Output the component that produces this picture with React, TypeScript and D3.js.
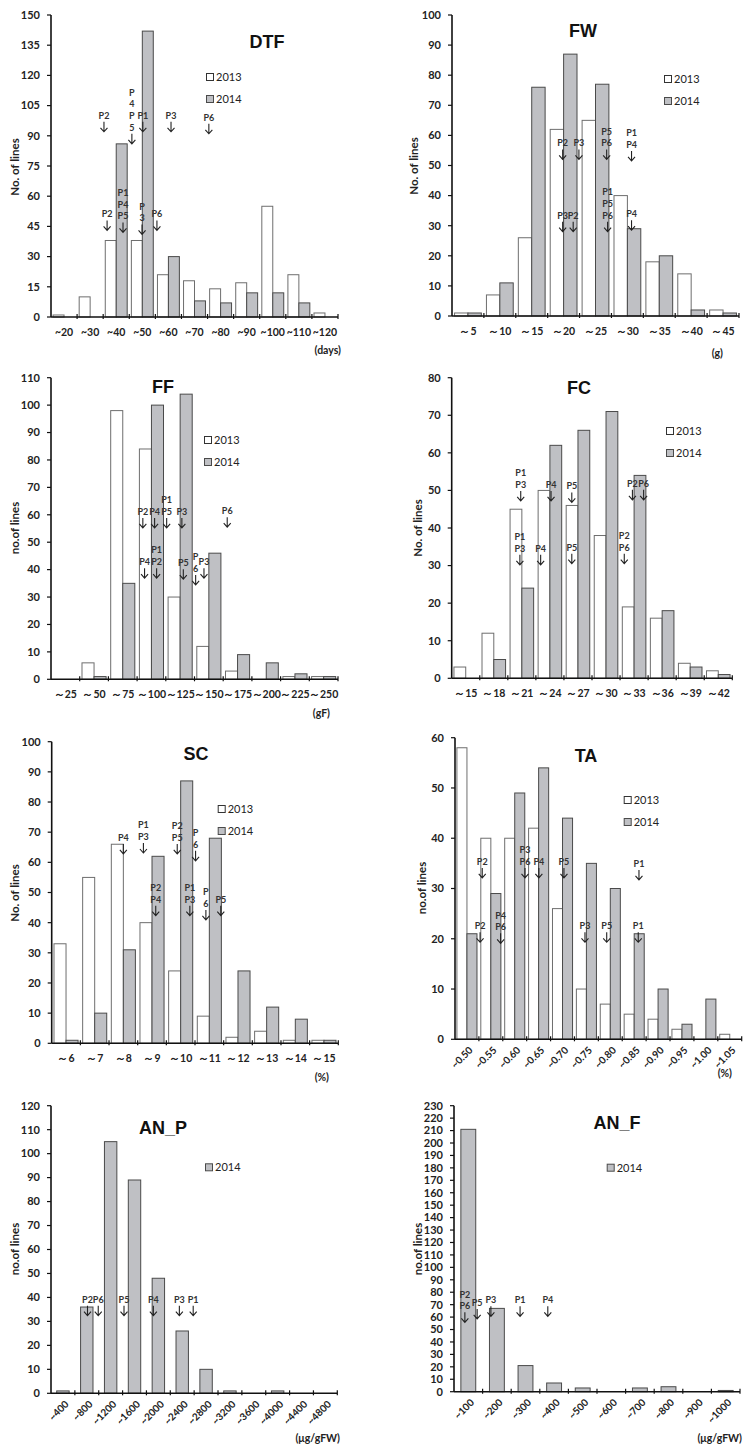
import React from "react";
import * as d3 from "d3";

// ---------- data ----------
const dtfCats = ["~20", "~30", "~40", "~50", "~60", "~70", "~80", "~90", "~100", "~110", "~120"];
const dtf2013 = [1, 10, 38, 38, 21, 18, 14, 17, 55, 21, 2];
const dtf2014 = [0, 0, 86, 142, 30, 8, 7, 12, 12, 7, 0];

const fwCats = ["～5", "～10", "～15", "～20", "～25", "～30", "～35", "～40", "～45"];
const fw2013 = [1, 7, 26, 62, 65, 40, 18, 14, 2];
const fw2014 = [1, 11, 76, 87, 77, 29, 20, 2, 1];

const ffCats = ["～25", "～50", "～75", "～100", "～125", "～150", "～175", "～200", "～225", "～250"];
const ff2013 = [0, 6, 98, 84, 30, 12, 3, 0, 1, 1];
const ff2014 = [0, 1, 35, 100, 104, 46, 9, 6, 2, 1];

const fcCats = ["～15", "～18", "～21", "～24", "～27", "～30", "～33", "～36", "～39", "～42"];
const fc2013 = [3, 12, 45, 50, 46, 38, 19, 16, 4, 2];
const fc2014 = [0, 5, 24, 62, 66, 71, 54, 18, 3, 1];

const scCats = ["～6", "～7", "～8", "～9", "～10", "～11", "～12", "～13", "～14", "～15"];
const sc2013 = [33, 55, 66, 40, 24, 9, 2, 4, 1, 1];
const sc2014 = [1, 10, 31, 62, 87, 68, 24, 12, 8, 1];

const taCats = ["~0.50", "~0.55", "~0.60", "~0.65", "~0.70", "~0.75", "~0.80", "~0.85", "~0.90", "~0.95", "~1.00", "~1.05"];
const ta2013 = [58, 40, 40, 42, 26, 10, 7, 5, 4, 2, 0, 1];
const ta2014 = [21, 29, 49, 54, 44, 35, 30, 21, 10, 3, 8, 0];

const anpCats = ["~400", "~800", "~1200", "~1600", "~2000", "~2400", "~2800", "~3200", "~3600", "~4000", "~4400", "~4800"];
const anp2014 = [1, 36, 105, 89, 48, 26, 10, 1, 0, 1, 0, 0];

const anfCats = ["~100", "~200", "~300", "~400", "~500", "~600", "~700", "~800", "~900", "~1000"];
const anf2014 = [211, 67, 21, 7, 3, 0, 3, 4, 0, 1];

// parent markers: [category position, value at arrow tip, label lines]
type Mark = [number, number, string[]];
const dtfMarks: Mark[] = [
  [2.03, 92, ["P2"]], [3.1, 86, ["P", "4", "P", "5"]], [3.52, 92, ["P1"]], [4.6, 92, ["P3"]], [6.05, 91, ["P6"]],
  [2.15, 43, ["P2"]], [2.76, 42, ["P1", "P4", "P5"]], [3.49, 41, ["P", "3"]], [4.06, 43, ["P6"]],
];
const fwMarks: Mark[] = [
  [3.47, 52, ["P2"]], [3.98, 52, ["P3"]], [4.85, 52, ["P5", "P6"]], [5.63, 51.5, ["P1", "P4"]],
  [3.47, 28, ["P3"]], [3.8, 28, ["P2"]], [4.88, 28, ["P1", "P5", "P6"]], [5.63, 28.5, ["P4"]],
];
const ffMarks: Mark[] = [
  [3.2, 55.2, ["P2"]], [3.61, 55.2, ["P4"]], [4.03, 55.2, ["P1", "P5"]], [4.56, 55.2, ["P3"]], [6.14, 55.5, ["P6"]],
  [3.26, 36.9, ["P4"]], [3.68, 36.9, ["P1", "P2"]], [4.61, 36.5, ["P5"]], [5.04, 34.4, ["P", "6"]], [5.33, 36.9, ["P3"]],
];
const fcMarks: Mark[] = [
  [2.46, 47.2, ["P1", "P3"]], [3.54, 47.2, ["P4"]], [4.28, 46.8, ["P5"]], [6.44, 47.5, ["P2"]], [6.84, 47.5, ["P6"]],
  [2.43, 30.2, ["P1", "P3"]], [3.17, 30.2, ["P4"]], [4.28, 30.5, ["P5"]], [6.15, 30.5, ["P2", "P6"]],
];
const scMarks: Mark[] = [
  [2.5, 62.8, ["P4"]], [3.2, 63.1, ["P1", "P3"]], [4.38, 62.8, ["P2", "P5"]], [5.02, 60.5, ["P", "6"]],
  [3.63, 42.3, ["P2", "P4"]], [4.82, 42.3, ["P1", "P3"]], [5.38, 40.9, ["P", "6"]], [5.9, 42.3, ["P5"]],
];
const taMarks: Mark[] = [
  [1.14, 32.1, ["P2"]], [2.93, 32.1, ["P3", "P6"]], [3.51, 32.1, ["P4"]], [4.56, 32.1, ["P5"]], [7.7, 31.7, ["P1"]],
  [1.05, 19.3, ["P2"]], [1.91, 19.1, ["P4", "P6"]], [5.44, 19.3, ["P3"]], [6.35, 19.3, ["P5"]], [7.67, 19.3, ["P1"]],
];
const anpMarks: Mark[] = [
  [1.53, 32.4, ["P2"]], [1.98, 32.4, ["P6"]], [3.06, 32.4, ["P5"]], [4.29, 32.4, ["P4"]], [5.38, 32.4, ["P3"]], [5.96, 32.4, ["P1"]],
];
const anfMarks: Mark[] = [
  [0.38, 55.8, ["P2", "P6"]], [0.81, 58.5, ["P5"]], [1.29, 60.6, ["P3"]], [2.31, 60.6, ["P1"]], [3.28, 60.6, ["P4"]],
];

// ---------- styles ----------
const FONT = "Lato, 'Open Sans', sans-serif";
const TITLE_FONT = "'Liberation Sans', Arial, sans-serif";
const FILL_2014 = "#bfc0c4";
const STROKE_2014 = "#4a4a4a";
const STROKE_2013 = "#6e6e6e";

type Series = { name: string; values: number[] };

type Layout = {
  left: number; right: number; top: number; bottom: number;
  yMax: number; yStep: number;
  title: string; titleX: number; titleY: number;
  legendX: number; legendY: number;
  yLabel: string; yLabelX: number; yLabelY: number;
  unit?: string; unitX?: number; unitY?: number;
  rotate?: boolean;
};

function Panel({ cats, series, marks, L }: { cats: string[]; series: Series[]; marks: Mark[]; L: Layout }) {
  const x = d3.scaleBand<string>().domain(cats).range([L.left, L.right]);
  const xi = d3.scaleLinear().domain([0, cats.length]).range([L.left, L.right]);
  const y = d3.scaleLinear().domain([0, L.yMax]).range([L.bottom, L.top]);
  const bw = x.bandwidth();
  const single = series.length === 1;
  const barW = single ? bw * 0.52 : bw * 0.42;
  const groupStart = (bw - barW * series.length) / 2;
  const yTicks = d3.range(0, L.yMax + 0.001, L.yStep);

  return (
    <g>
      {/* bars */}
      {series.map((s, si) =>
        s.values.map((v, i) => {
          if (v <= 0) return null;
          const is2014 = s.name === "2014";
          const bx = (x(cats[i]) as number) + groupStart + si * barW;
          return (
            <rect key={s.name + i} x={bx} y={y(v)} width={barW} height={y(0) - y(v)}
              fill={is2014 ? FILL_2014 : "#fff"} stroke={is2014 ? STROKE_2014 : STROKE_2013} strokeWidth={1} />
          );
        })
      )}

      {/* y axis */}
      <line x1={L.left} x2={L.left} y1={L.top} y2={L.bottom} stroke="#111" strokeWidth={1.6} />
      {yTicks.map((t) => (
        <g key={t}>
          <line x1={L.left - 4} x2={L.left} y1={y(t)} y2={y(t)} stroke="#111" strokeWidth={1.2} />
          <text x={L.left - 11} y={y(t)} dy="0.35em" textAnchor="end" fontFamily={FONT} fontWeight={700}
            fontSize={11} fill="#222">{t}</text>
        </g>
      ))}

      {/* x axis */}
      <line x1={L.left} x2={L.right} y1={L.bottom} y2={L.bottom} stroke="#111" strokeWidth={1.6} />
      {cats.map((c, i) => (
        <line key={"tk" + c} x1={xi(i + 1)} x2={xi(i + 1)} y1={L.bottom - 3} y2={L.bottom + 2} stroke="#111" strokeWidth={1.2} />
      ))}
      {cats.map((c) => {
        const cx = (x(c) as number) + bw / 2;
        return L.rotate ? (
          <text key={"xl" + c} transform={`translate(${cx + 4},${L.bottom + 9}) rotate(-45)`} textAnchor="end" dy="0.35em"
            fontFamily={FONT} fontWeight={700} fontSize={10} fill="#222">{c}</text>
        ) : (
          <text key={"xl" + c} x={cx} y={L.bottom + 19} textAnchor="middle" fontFamily={FONT} fontWeight={700}
            fontSize={10.5} fill="#222">{c}</text>
        );
      })}

      {/* axis titles */}
      <text transform={`translate(${L.yLabelX},${L.yLabelY}) rotate(-90)`} textAnchor="middle" dy="0.35em"
        fontFamily={FONT} fontWeight={700} fontSize={11.5} fill="#222">{L.yLabel}</text>
      {L.unit && (
        <text x={L.unitX} y={L.unitY} textAnchor="end" fontFamily={FONT} fontWeight={700} fontSize={10.5} fill="#222">{L.unit}</text>
      )}

      {/* chart title */}
      <text x={L.titleX} y={L.titleY} dy="0.36em" textAnchor="middle" fontFamily={TITLE_FONT} fontWeight={700}
        fontSize={18} fill="#111">{L.title}</text>

      {/* legend */}
      {series.map((s, si) => {
        const ly = L.legendY + si * 22;
        const is2014 = s.name === "2014";
        return (
          <g key={"lg" + s.name}>
            <rect x={L.legendX - 3.5} y={ly - 3.5} width={7} height={7} fill={is2014 ? FILL_2014 : "#fff"}
              stroke={is2014 ? STROKE_2014 : "#333"} strokeWidth={1} />
            <text x={L.legendX + 6} y={ly} dy="0.36em" fontFamily={FONT} fontSize={11} fill="#222">{s.name}</text>
          </g>
        );
      })}

      {/* parent markers */}
      {marks.map(([mx, my, lines], i) => {
        const cx = xi(mx);
        const tip = y(my);
        return (
          <g key={"mk" + i}>
            {lines.map((t, j) => (
              <text key={j} x={cx} y={tip - 13 - (lines.length - 1 - j) * 11.7} textAnchor="middle" fontFamily={FONT}
                fontWeight={700} fontSize={9} fill="#333">{t}</text>
            ))}
            <path d={`M${cx},${tip - 10}V${tip}M${cx - 3.5},${tip - 4}L${cx},${tip}L${cx + 3.5},${tip - 4}`}
              stroke="#222" strokeWidth={1.1} fill="none" />
          </g>
        );
      })}
    </g>
  );
}

const layoutDTF: Layout = { left: 51, right: 338, top: 15, bottom: 317, yMax: 150, yStep: 15, title: "DTF", titleX: 267, titleY: 42,
  legendX: 210, legendY: 77, yLabel: "No. of lines", yLabelX: 15, yLabelY: 167, unit: "(days)", unitX: 341, unitY: 354 };
const layoutFW: Layout = { left: 452, right: 739, top: 15, bottom: 316, yMax: 100, yStep: 10, title: "FW", titleX: 583, titleY: 31,
  legendX: 668, legendY: 79, yLabel: "No. of lines", yLabelX: 414, yLabelY: 166, unit: "(g)", unitX: 723, unitY: 357 };
const layoutFF: Layout = { left: 51, right: 338, top: 377.7, bottom: 679.3, yMax: 110, yStep: 10, title: "FF", titleX: 163, titleY: 387,
  legendX: 208, legendY: 440, yLabel: "no.of lines", yLabelX: 15, yLabelY: 528, unit: "(gF)", unitX: 330, unitY: 717 };
const layoutFC: Layout = { left: 451.7, right: 732.3, top: 377.7, bottom: 678.3, yMax: 80, yStep: 10, title: "FC", titleX: 579, titleY: 388,
  legendX: 670, legendY: 431, yLabel: "No. of lines", yLabelX: 418, yLabelY: 528 };
const layoutSC: Layout = { left: 51.7, right: 338.3, top: 741.7, bottom: 1043.3, yMax: 100, yStep: 10, title: "SC", titleX: 196, titleY: 754,
  legendX: 221.7, legendY: 809, yLabel: "No. of lines", yLabelX: 15, yLabelY: 893, unit: "(%)", unitX: 329, unitY: 1081 };
const layoutTA: Layout = { left: 455, right: 741.7, top: 737.7, bottom: 1039.3, yMax: 60, yStep: 10, title: "TA", titleX: 586, titleY: 756,
  legendX: 627.7, legendY: 800, yLabel: "no.of lines", yLabelX: 421.7, yLabelY: 888, unit: "(%)", unitX: 732, unitY: 1077, rotate: true };
const layoutANP: Layout = { left: 51, right: 337.3, top: 1105.7, bottom: 1393.3, yMax: 120, yStep: 10, title: "AN_P", titleX: 163, titleY: 1128,
  legendX: 209, legendY: 1167.3, yLabel: "no.of lines", yLabelX: 15, yLabelY: 1249, unit: "(μg/gFW)", unitX: 340, unitY: 1442, rotate: true };
const layoutANF: Layout = { left: 454, right: 740, top: 1105.7, bottom: 1391.7, yMax: 230, yStep: 10, title: "AN_F", titleX: 617, titleY: 1123,
  legendX: 610.7, legendY: 1167.7, yLabel: "no.of lines", yLabelX: 418.3, yLabelY: 1249, unit: "(μg/gFW)", unitX: 742, unitY: 1442, rotate: true };

export default function App() {
  const two = (a: number[], b: number[]): Series[] => [{ name: "2013", values: a }, { name: "2014", values: b }];
  return (
    <svg width={753} height={1454} style={{ position: "absolute", left: 0, top: 0, background: "#fff" }}>
      <rect width={753} height={1454} fill="#fff" />
      <Panel cats={dtfCats} series={two(dtf2013, dtf2014)} marks={dtfMarks} L={layoutDTF} />
      <Panel cats={fwCats} series={two(fw2013, fw2014)} marks={fwMarks} L={layoutFW} />
      <Panel cats={ffCats} series={two(ff2013, ff2014)} marks={ffMarks} L={layoutFF} />
      <Panel cats={fcCats} series={two(fc2013, fc2014)} marks={fcMarks} L={layoutFC} />
      <Panel cats={scCats} series={two(sc2013, sc2014)} marks={scMarks} L={layoutSC} />
      <Panel cats={taCats} series={two(ta2013, ta2014)} marks={taMarks} L={layoutTA} />
      <Panel cats={anpCats} series={[{ name: "2014", values: anp2014 }]} marks={anpMarks} L={layoutANP} />
      <Panel cats={anfCats} series={[{ name: "2014", values: anf2014 }]} marks={anfMarks} L={layoutANF} />
    </svg>
  );
}
